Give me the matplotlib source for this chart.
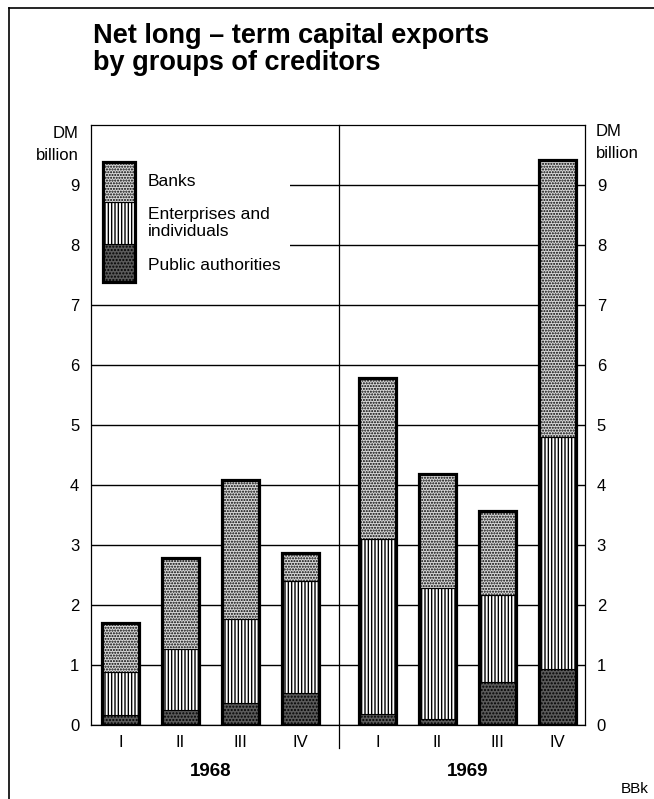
import numpy as np
import matplotlib.pyplot as plt
from matplotlib.patches import Rectangle
from matplotlib.lines import Line2D

plt.rcParams['font.family'] = ['Liberation Sans', 'DejaVu Sans']
plt.rcParams['hatch.linewidth'] = 1.0

# data, DM billion
quarters = ['I', 'II', 'III', 'IV']
years = ['1968', '1969']
public = [0.17, 0.25, 0.36, 0.53, 0.18, 0.10, 0.72, 0.93]
enterprises = [0.71, 1.01, 1.40, 1.87, 2.92, 2.18, 1.45, 3.87]
banks = [0.82, 1.52, 2.32, 0.46, 2.68, 1.91, 1.40, 4.62]

W, H = 654, 799
fig = plt.figure(figsize=(W / 100, H / 100), dpi=100)


def px(x, y):
    # pixel position -> figure fraction
    return x / W, 1 - y / H


ax = fig.add_axes([91 / W, 1 - 725 / H, (585 - 91) / W, (725 - 125) / H])

x = np.concatenate([np.arange(4), np.arange(4) + 4.28])
width = 0.61
pub = np.array(public)
ent = np.array(enterprises)
bnk = np.array(banks)

styles = {
    'pub': dict(facecolor='#5a5a5a', hatch='.....'),
    'ent': dict(facecolor='white', hatch='|||||'),
    'bnk': dict(facecolor='#d8d8d8', hatch='......'),
}

ax.bar(x, pub, width, edgecolor='black', lw=0.8, zorder=3, **styles['pub'])
ax.bar(x, ent, width, bottom=pub, edgecolor='black', lw=0.8, zorder=3, **styles['ent'])
ax.bar(x, bnk, width, bottom=pub + ent, edgecolor='black', lw=0.8, zorder=3, **styles['bnk'])
ax.bar(x, pub + ent + bnk, width, fill=False, edgecolor='black', lw=2.3, zorder=4)

ax.set_xlim(-0.49, 7.74)
ax.set_ylim(0, 10)
ax.set_yticks(range(10))
ax.yaxis.grid(True, color='black', lw=1.0)
ax.set_axisbelow(True)
ax.tick_params(axis='y', length=0, pad=8.5, labelsize=12, labelleft=True, labelright=True)
ax.set_xticks(x)
ax.set_xticklabels(quarters * 2)
ax.tick_params(axis='x', length=0, pad=7, labelsize=12)
for s in ax.spines.values():
    s.set_linewidth(0.9)

# year divider
ax.plot([3.64, 3.64], [10, -0.38], color='black', lw=0.9, clip_on=False, zorder=5)

# year labels
for i, yr in enumerate(years):
    ax.text(x[i * 4:(i + 1) * 4].mean(), -0.77, yr, ha='center', va='center',
            fontsize=13.5, fontweight='bold')

# unit labels
fig.text(*px(79, 134), 'DM', ha='right', va='center', fontsize=12)
fig.text(*px(79, 156), 'billion', ha='right', va='center', fontsize=12)
fig.text(*px(596, 131), 'DM', ha='left', va='center', fontsize=12)
fig.text(*px(596, 153), 'billion', ha='left', va='center', fontsize=12)

# legend
ax.add_patch(Rectangle((0.002, 0.72), 0.40, 0.275, transform=ax.transAxes,
                       facecolor='white', edgecolor='none', zorder=1))
lx0, lx1 = (103 - 91) / 494, (135 - 91) / 494


def ay(py):
    return (725 - py) / 600


segs = [(282, 244, 'pub'), (244, 202, 'ent'), (202, 162, 'bnk')]
for y0, y1, key in segs:
    ax.add_patch(Rectangle((lx0, ay(y0)), lx1 - lx0, ay(y1) - ay(y0), transform=ax.transAxes,
                           edgecolor='black', lw=0.8, zorder=3, **styles[key]))
ax.add_patch(Rectangle((lx0, ay(282)), lx1 - lx0, ay(162) - ay(282), transform=ax.transAxes,
                       fill=False, edgecolor='black', lw=2.3, zorder=4))
tx = (148 - 91) / 494
ax.text(tx, ay(181), 'Banks', transform=ax.transAxes, va='center', fontsize=12.5)
ax.text(tx, ay(223), 'Enterprises and\nindividuals', transform=ax.transAxes, va='center',
        fontsize=12.5, linespacing=1.15)
ax.text(tx, ay(265), 'Public authorities', transform=ax.transAxes, va='center', fontsize=12.5)

# title
fig.text(*px(93, 43), 'Net long \u2013 term capital exports', ha='left', va='baseline',
         fontsize=19.5, fontweight='bold')
fig.text(*px(93, 70), 'by groups of creditors', ha='left', va='baseline',
         fontsize=19.5, fontweight='bold')

fig.text(*px(621, 793), 'BBk', ha='left', va='baseline', fontsize=11)

# outer frame
fig.add_artist(Line2D([9 / W, 9 / W], [0, 1 - 8 / H], color='black', lw=1.2,
                      transform=fig.transFigure))
fig.add_artist(Line2D([9 / W, 1], [1 - 8 / H, 1 - 8 / H], color='black', lw=1.2,
                      transform=fig.transFigure))

fig.savefig('out.png', dpi=100)
